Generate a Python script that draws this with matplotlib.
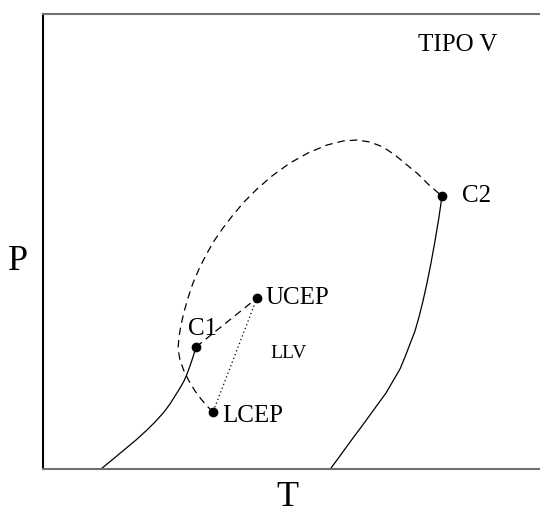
import matplotlib.pyplot as plt

plt.rcParams['font.family'] = ['Liberation Serif', 'DejaVu Serif']

# critical points (T, P) in arbitrary units
pt_names = ['C1', 'UCEP', 'LCEP', 'C2']
pt_T = [196, 257, 213, 442]
pt_P = [122, 171, 57, 273]

# vapour pressure curve of component 1 (ends at C1)
vp1_T = [101, 112, 124, 136, 147, 156, 164, 170, 175, 180, 184, 187, 190, 193, 196]
vp1_P = [0, 9, 19, 29, 39, 48, 57, 65, 73, 81, 88, 95, 103, 112, 122]

# vapour pressure curve of component 2 (ends at C2)
vp2_T = [331, 337, 345, 353, 362, 370, 378, 386, 393, 400, 405, 410, 415, 419, 423,
         427, 431, 435, 439, 442]
vp2_P = [1, 9, 20, 31, 43, 54, 65, 76, 88, 100, 112, 125, 138, 152, 168,
         186, 206, 228, 252, 273]

# critical line from LCEP up to C2
crit_T = [213, 207, 201, 195, 189, 184, 180, 178, 179, 181, 184, 188, 193, 199, 206, 214,
          223, 233, 244, 257, 272, 290, 308, 327, 343, 357, 370, 383, 395, 407, 418, 428,
          436, 442]
crit_P = [57, 63, 70, 78, 88, 98, 109, 120, 132, 144, 157, 171, 186, 200, 214, 228,
          241, 254, 267, 280, 293, 306, 316, 324, 328, 329, 327, 322, 314, 304, 295, 285,
          278, 273]

fig = plt.figure(figsize=(5.4, 5.15), dpi=100)
ax = fig.add_axes([43 / 540, 46 / 515, 1 - 43 / 540, 455 / 515])
ax.set_xlim(43, 540)
ax.set_ylim(0, 455)

lw = 0.9
ax.plot(vp1_T, vp1_P, color='black', lw=lw)
ax.plot(vp2_T, vp2_P, color='black', lw=lw)
ax.plot(crit_T, crit_P, color='black', lw=lw, dashes=(6, 4))
# C1 - UCEP branch (dashed) and the LLV line (dotted)
ax.plot([pt_T[0], pt_T[1]], [pt_P[0], pt_P[1]], color='black', lw=lw, dashes=(6, 4))
ax.plot([pt_T[1], pt_T[2]], [pt_P[1], pt_P[2]], color='black', lw=lw, dashes=(1, 2.2))
ax.plot(pt_T, pt_P, 'o', color='black', ms=6)

fs = 18
ax.text(188, 140, 'C1', fontsize=fs, va='center')
ax.text(265, 171, 'UCEP', fontsize=fs, va='center')
ax.text(222, 53, 'LCEP', fontsize=fs, va='center')
ax.text(462, 273, 'C2', fontsize=fs, va='center')
ax.text(270, 115, 'LLV', fontsize=14, va='center')
ax.text(418, 424, 'TIPO V', fontsize=18, va='center')

fig.text(18 / 540, 1 - 262 / 515, 'P', fontsize=26, ha='center', va='center')
fig.text(287 / 540, 1 - 497 / 515, 'T', fontsize=26, ha='center', va='center')

ax.set_xticks([])
ax.set_yticks([])
ax.spines['right'].set_visible(False)
ax.spines['left'].set_color('black')
ax.spines['top'].set_color('#707070')
ax.spines['bottom'].set_color('#707070')
for s in ax.spines.values():
    s.set_linewidth(1.5)

fig.savefig('out.png', dpi=100)
